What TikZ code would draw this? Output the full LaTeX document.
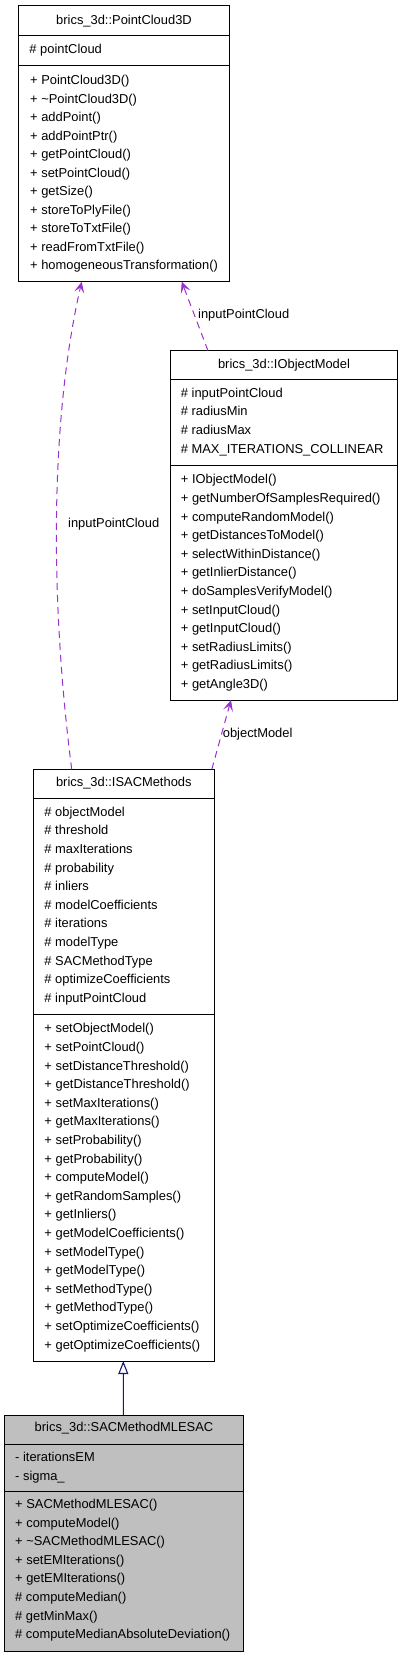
\documentclass[tikz,border=0pt]{standalone}
\usepackage{fontspec}
\setmainfont{Liberation Sans}
\usetikzlibrary{arrows.meta}
\definecolor{assoc}{HTML}{9A32CD}
\definecolor{inher}{HTML}{191970}
\definecolor{derived}{HTML}{BFBFBF}
\begin{document}
\begin{tikzpicture}[x=1bp,y=-1bp,
  font=\fontsize{12.9bp}{15bp}\selectfont,
  classbox/.style={draw=black, line width=0.9bp, anchor=north west, inner sep=0, outer sep=0},
  sepline/.style={line width=0.9bp},
  row/.style={anchor=base west, inner sep=0},
  ttl/.style={anchor=base, inner sep=0},
  assocline/.style={assoc, line width=1bp, dash pattern=on 7bp off 5bp,
    -{Stealth[length=11bp,width=10bp,inset=5bp]}},
  inhline/.style={inher, line width=1.1bp,
    -{Triangle[length=13bp,width=10bp,fill=white]}}]
\fill[white] (0,0) rectangle (403,1659);
\useasboundingbox (0,0) rectangle (403,1659);

% ---------- PointCloud3D ----------
\node[classbox, minimum width=210.6bp, minimum height=276bp] (pc) at (18.7,5.7) {};
\draw[sepline] (18.7,35) -- (229.3,35);
\draw[sepline] (18.7,65) -- (229.3,65);
\node[ttl] (pct) at (124,24.5) {brics\_3d::PointCloud3D};
\node[row] (pca0) at (29.3,53.5) {\# pointCloud};
\foreach \t [count=\i from 0] in {+ PointCloud3D(), + \textasciitilde PointCloud3D(), + addPoint(), + addPointPtr(), + getPointCloud(), + setPointCloud(), + getSize(), + storeToPlyFile(), + storeToTxtFile(), + readFromTxtFile(), + homogeneousTransformation()}
  \node[row] (pcm\i) at (30,84.5+18.5*\i) {\t};

% ---------- IObjectModel ----------
\node[classbox, minimum width=226.6bp, minimum height=349.3bp] (iom) at (170.7,350.7) {};
\draw[sepline] (170.7,379.3) -- (397.3,379.3);
\draw[sepline] (170.7,465) -- (397.3,465);
\node[ttl] (iomt) at (284,368.5) {brics\_3d::IObjectModel};
\foreach \t [count=\i from 0] in {\# inputPointCloud, \# radiusMin, \# radiusMax, \# MAX\_ITERATIONS\_COLLINEAR}
  \node[row] (ioma\i) at (180.7,397.2+18.6*\i) {\t};
\foreach \t [count=\i from 0] in {+ IObjectModel(), + getNumberOfSamplesRequired(), + computeRandomModel(), + getDistancesToModel(), + selectWithinDistance(), + getInlierDistance(), + doSamplesVerifyModel(), + setInputCloud(), + getInputCloud(), + setRadiusLimits(), + getRadiusLimits(), + getAngle3D()}
  \node[row] (iomm\i) at (180.7,483.8+18.6*\i) {\t};

% ---------- ISACMethods ----------
\node[classbox, minimum width=181bp, minimum height=591.7bp] (isac) at (33.3,769.3) {};
\draw[sepline] (33.3,798.3) -- (214.3,798.3);
\draw[sepline] (33.3,1014) -- (214.3,1014);
\node[ttl] (isact) at (123.8,786.5) {brics\_3d::ISACMethods};
\foreach \t [count=\i from 0] in {\# objectModel, \# threshold, \# maxIterations, \# probability, \# inliers, \# modelCoefficients, \# iterations, \# modelType, \# SACMethodType, \# optimizeCoefficients, \# inputPointCloud}
  \node[row] (isaca\i) at (44.3,816.2+18.6*\i) {\t};
\foreach \t [count=\i from 0] in {+ setObjectModel(), + setPointCloud(), + setDistanceThreshold(), + getDistanceThreshold(), + setMaxIterations(), + getMaxIterations(), + setProbability(), + getProbability(), + computeModel(), + getRandomSamples(), + getInliers(), + getModelCoefficients(), + setModelType(), + getModelType(), + setMethodType(), + getMethodType(), + setOptimizeCoefficients(), + getOptimizeCoefficients()}
  \node[row] (isacm\i) at (44.3,1032.8+18.6*\i) {\t};

% ---------- SACMethodMLESAC ----------
\node[classbox, fill=derived, minimum width=238.6bp, minimum height=236.7bp] (mle) at (4.7,1415) {};
\draw[sepline] (4.7,1444) -- (243.3,1444);
\draw[sepline] (4.7,1491.7) -- (243.3,1491.7);
\node[ttl] (mlet) at (124,1431.5) {brics\_3d::SACMethodMLESAC};
\node[row] (mlea0) at (15,1461.2) {- iterationsEM};
\node[row] (mlea1) at (15,1480.2) {- sigma\_};
\foreach \t [count=\i from 0] in {+ SACMethodMLESAC(), + computeModel(), + \textasciitilde SACMethodMLESAC(), + setEMIterations(), + getEMIterations(), \# computeMedian(), \# getMinMax(), \# computeMedianAbsoluteDeviation()}
  \node[row] (mlem\i) at (15,1508.5+18.6*\i) {\t};

% ---------- connectors ----------
\draw[assocline] ([xshift=38.4bp]isac.north west) .. controls (50,600) and (50,420) .. ([xshift=63bp]pc.south west);
\node[row] (lbl1) at (68,527) {inputPointCloud};

\draw[assocline] ([xshift=37.3bp]iom.north west) -- ([xshift=163bp]pc.south west);
\node[row] (lbl2) at (198,318.5) {inputPointCloud};

\draw[assocline] ([xshift=-2.5bp]isac.north east) -- ([xshift=60.3bp]iom.south west);
\node[row] (lbl3) at (222.7,737.5) {objectModel};

\draw[inhline] ([xshift=118.6bp]mle.north west) -- ([xshift=90bp]isac.south west);
\end{tikzpicture}
\end{document}
